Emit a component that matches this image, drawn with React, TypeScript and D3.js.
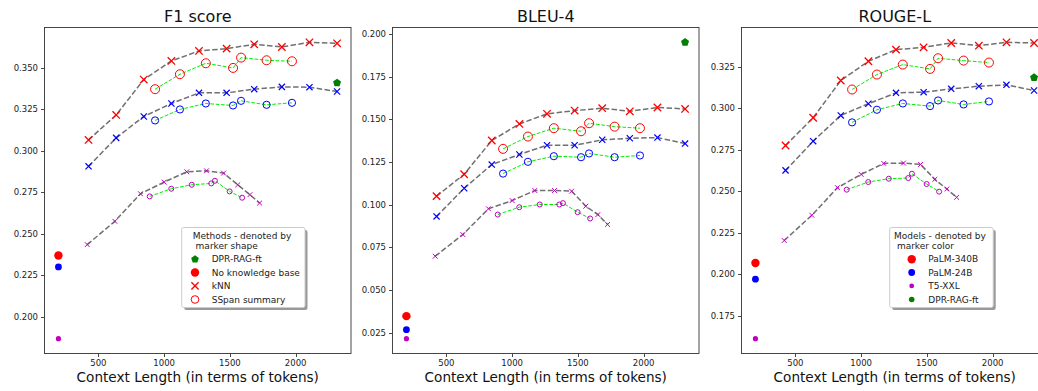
import React from "react";
import * as d3 from "d3";

// ---------- data ----------
const xTicks = [500, 1000, 1500, 2000];
const knnXPalm = [425, 635, 845, 1055, 1265, 1475, 1685, 1895, 2105, 2315];
const knnXT5 = [415, 625, 820, 1000, 1172, 1322, 1452, 1560, 1652, 1726];
const sspanXPalm = [931, 1120, 1317, 1524, 1585, 1779, 1972];
const sspanXT5 = [890, 1054, 1210, 1358, 1386, 1498, 1593];
const baselineX = 196;
const dprX = 2315;

const f1Knn340 = [0.3065, 0.3215, 0.3428, 0.354, 0.36, 0.3614, 0.364, 0.3624, 0.3652, 0.3646];
const f1Knn24 = [0.2906, 0.3077, 0.3206, 0.3284, 0.3348, 0.3348, 0.337, 0.3384, 0.3382, 0.3356];
const f1KnnT5 = [0.2435, 0.2575, 0.2741, 0.2811, 0.2873, 0.2879, 0.2865, 0.2795, 0.2735, 0.2685];
const f1Ss340 = [0.337, 0.346, 0.3526, 0.3498, 0.356, 0.3544, 0.3538];
const f1Ss24 = [0.3182, 0.3248, 0.3284, 0.3272, 0.33, 0.3276, 0.3288];
const f1SsT5 = [0.2725, 0.2771, 0.2795, 0.2803, 0.2819, 0.2755, 0.2717];
const f1Base = [0.2369, 0.2301, 0.1869];
const f1Dpr = 0.3408;
const f1Ticks = [0.2, 0.225, 0.25, 0.275, 0.3, 0.325, 0.35];

const bleuKnn340 = [0.105, 0.1178, 0.1376, 0.1473, 0.1532, 0.1551, 0.1565, 0.1547, 0.1569, 0.1561];
const bleuKnn24 = [0.0931, 0.1096, 0.1235, 0.1294, 0.1348, 0.1348, 0.138, 0.1389, 0.1393, 0.1358];
const bleuKnnT5 = [0.0698, 0.0825, 0.0976, 0.1024, 0.1083, 0.1083, 0.1079, 0.0991, 0.0942, 0.0884];
const bleuSs340 = [0.1327, 0.1399, 0.1448, 0.143, 0.1477, 0.1457, 0.1448];
const bleuSs24 = [0.1182, 0.1251, 0.1284, 0.1278, 0.13, 0.1278, 0.1288];
const bleuSsT5 = [0.0942, 0.0985, 0.1001, 0.1001, 0.1009, 0.0956, 0.0919];
const bleuBase = [0.0347, 0.0268, 0.0215];
const bleuDpr = 0.1951;
const bleuTicks = [0.025, 0.05, 0.075, 0.1, 0.125, 0.15, 0.175, 0.2];

const rougeKnn340 = [0.2775, 0.2942, 0.3166, 0.3282, 0.3352, 0.3366, 0.3392, 0.3376, 0.3396, 0.3392];
const rougeKnn24 = [0.2625, 0.2801, 0.2956, 0.3026, 0.3092, 0.3096, 0.3116, 0.3132, 0.314, 0.3106];
const rougeKnnT5 = [0.2203, 0.2355, 0.2521, 0.2601, 0.2667, 0.2669, 0.2661, 0.2571, 0.2513, 0.2463];
const rougeSs340 = [0.3112, 0.3202, 0.3262, 0.3236, 0.33, 0.3286, 0.3274];
const rougeSs24 = [0.2914, 0.299, 0.3028, 0.3012, 0.3046, 0.3022, 0.304];
const rougeSsT5 = [0.2509, 0.2555, 0.2575, 0.2579, 0.2605, 0.2543, 0.2497];
const rougeBase = [0.2068, 0.197, 0.1612];
const rougeDpr = 0.3184;
const rougeTicks = [0.175, 0.2, 0.225, 0.25, 0.275, 0.3, 0.325];

const modelNames = ["PaLM-340B", "PaLM-24B", "T5-XXL", "DPR-RAG-ft"];
const methodNames = ["DPR-RAG-ft", "No knowledge base", "kNN", "SSpan summary"];

// ---------- styling ----------
const FONT = "DejaVu Sans, sans-serif";
const RED = "#ff0000";
const BLUE = "#0000ff";
const MAG = "#bf00bf";
const GREEN = "#008000";
const LIME = "#00ee00";
const GRAY = "#707070";

const AX_LEFTS = [44.5, 392.5, 741.5];
const AX_W = 306.5;
const AX_TOP = 27.5;
const AX_BOTTOM = 353.5;

const modelStyle = [
  { color: RED, xs: 3.7, cr: 4.5, br: 4.2, sw: 1.3 },
  { color: BLUE, xs: 3.1, cr: 3.6, br: 3.4, sw: 1.2 },
  { color: MAG, xs: 2.4, cr: 2.5, br: 2.6, sw: 1.0 },
];

function pentagonPath(r: number) {
  const pts = d3.range(5).map((i) => {
    const a = -Math.PI / 2 + (i * 2 * Math.PI) / 5;
    return [r * Math.cos(a), r * Math.sin(a)];
  });
  return "M" + pts.map((p) => p[0].toFixed(2) + "," + p[1].toFixed(2)).join("L") + "Z";
}
const xPath = (s: number) => `M${-s},${-s}L${s},${s}M${-s},${s}L${s},${-s}`;

type Panel = {
  title: string;
  knn: number[][];
  ss: number[][];
  base: number[];
  dpr: number;
  ticks: number[];
};

const panels: Panel[] = [
  { title: "F1 score", knn: [f1Knn340, f1Knn24, f1KnnT5], ss: [f1Ss340, f1Ss24, f1SsT5], base: f1Base, dpr: f1Dpr, ticks: f1Ticks },
  { title: "BLEU-4", knn: [bleuKnn340, bleuKnn24, bleuKnnT5], ss: [bleuSs340, bleuSs24, bleuSsT5], base: bleuBase, dpr: bleuDpr, ticks: bleuTicks },
  { title: "ROUGE-L", knn: [rougeKnn340, rougeKnn24, rougeKnnT5], ss: [rougeSs340, rougeSs24, rougeSsT5], base: rougeBase, dpr: rougeDpr, ticks: rougeTicks },
];

function padDomain(vals: number[]): [number, number] {
  const [lo, hi] = d3.extent(vals) as [number, number];
  const m = (hi - lo) * 0.05;
  return [lo - m, hi + m];
}

const allX = [...knnXPalm, ...knnXT5, ...sspanXPalm, ...sspanXT5, baselineX, dprX];
const xDomain = padDomain(allX);

function PanelView({ p, idx }: { p: Panel; idx: number }) {
  const left = AX_LEFTS[idx];
  const x = d3.scaleLinear().domain(xDomain).range([left, left + AX_W]);
  const allY = [...p.knn.flat(), ...p.ss.flat(), ...p.base, p.dpr];
  const y = d3.scaleLinear().domain(padDomain(allY)).range([AX_BOTTOM, AX_TOP]);
  const line = d3.line<[number, number]>().x((d) => x(d[0])).y((d) => y(d[1]));
  const knnX = [knnXPalm, knnXPalm, knnXT5];
  const ssX = [sspanXPalm, sspanXPalm, sspanXT5];

  return (
    <g>
      {/* title */}
      <text x={left + AX_W / 2} y={21.7} textAnchor="middle" fontSize={16} fill="#111">{p.title}</text>
      {/* y ticks */}
      {p.ticks.map((t) => (
        <g key={"y" + t}>
          <line x1={left - 3.5} x2={left} y1={Math.round(y(t)) + 0.5} y2={Math.round(y(t)) + 0.5} stroke="#333" strokeWidth={0.9} />
          <text x={left - 6.5} y={y(t) + 3.1} textAnchor="end" fontSize={8.5} fill="#222">{d3.format(".3f")(t)}</text>
        </g>
      ))}
      {/* x ticks */}
      {xTicks.map((t) => (
        <g key={"x" + t}>
          <line x1={Math.round(x(t)) + 0.5} x2={Math.round(x(t)) + 0.5} y1={AX_BOTTOM} y2={AX_BOTTOM + 3.5} stroke="#333" strokeWidth={0.9} />
          <text x={x(t)} y={366.4} textAnchor="middle" fontSize={8.5} fill="#222">{t}</text>
        </g>
      ))}
      <text x={left + AX_W / 2} y={381.7} textAnchor="middle" fontSize={13.6} fill="#111">Context Length (in terms of tokens)</text>

      {/* kNN series */}
      {p.knn.map((vals, m) => {
        const st = modelStyle[m];
        const pts = vals.map((v, i) => [knnX[m][i], v] as [number, number]);
        return (
          <g key={"knn" + m}>
            <path d={line(pts) || ""} fill="none" stroke={GRAY} strokeWidth={1.5} strokeDasharray="5.5,2.4" />
            {pts.map((d, i) => (
              <path key={i} transform={`translate(${x(d[0])},${y(d[1])})`} d={xPath(st.xs)} stroke={st.color} strokeWidth={st.sw} fill="none" />
            ))}
          </g>
        );
      })}
      {/* SSpan series */}
      {p.ss.map((vals, m) => {
        const st = modelStyle[m];
        const pts = vals.map((v, i) => [ssX[m][i], v] as [number, number]);
        return (
          <g key={"ss" + m}>
            <path d={line(pts) || ""} fill="none" stroke={LIME} strokeWidth={1} strokeDasharray="3.7,1.6" />
            {pts.map((d, i) => (
              <circle key={i} cx={x(d[0])} cy={y(d[1])} r={st.cr} stroke={st.color} strokeWidth={1} fill="none" />
            ))}
          </g>
        );
      })}
      {/* baselines */}
      {p.base.map((v, m) => (
        <circle key={"b" + m} cx={x(baselineX)} cy={y(v)} r={modelStyle[m].br} fill={modelStyle[m].color} />
      ))}
      {/* DPR */}
      <path transform={`translate(${x(dprX)},${y(p.dpr)})`} d={pentagonPath(4.2)} fill={GREEN} />

      {/* frame */}
      <rect x={left} y={AX_TOP} width={AX_W} height={AX_BOTTOM - AX_TOP} fill="none" stroke="#333" strokeWidth={0.9} />
    </g>
  );
}

function LegendBox({ x0, w, titleLines, titleDx, markerDx, textDx, items }: any) {
  const h = 80;
  const y0 = 227.5;
  const rows = [31.7, 45, 58.4, 72];
  return (
    <g>
      <rect x={x0 + 2.5} y={y0 + 2.5} width={w} height={h} rx={2} fill="#000" opacity={0.4} />
      <rect x={x0} y={y0} width={w} height={h} rx={2} fill="#fff" stroke="#cccccc" strokeWidth={1} />
      <text x={x0 + titleDx} y={y0 + 11} fontSize={9} fill="#222">{titleLines[0]}</text>
      <text x={x0 + titleDx + 2.9} y={y0 + 21.2} fontSize={9} fill="#222">{titleLines[1]}</text>
      {items.map((it: any, i: number) => (
        <g key={i}>
          <g transform={`translate(${x0 + markerDx},${y0 + rows[i]})`}>{it.marker}</g>
          <text x={x0 + textDx} y={y0 + rows[i] + 3.2} fontSize={9} fill="#222">{it.label}</text>
        </g>
      ))}
    </g>
  );
}

export default function App() {
  const methodItems = [
    { label: methodNames[0], marker: <path d={pentagonPath(4)} fill={GREEN} /> },
    { label: methodNames[1], marker: <circle r={4.2} fill={RED} /> },
    { label: methodNames[2], marker: <path d={xPath(3.6)} stroke={RED} strokeWidth={1.3} fill="none" /> },
    { label: methodNames[3], marker: <circle r={3.8} fill="none" stroke={RED} strokeWidth={1} /> },
  ];
  const modelItems = [
    { label: modelNames[0], marker: <circle r={4.2} fill={RED} /> },
    { label: modelNames[1], marker: <circle r={3.4} fill={BLUE} /> },
    { label: modelNames[2], marker: <circle r={2.4} fill={MAG} /> },
    { label: modelNames[3], marker: <circle r={2.8} fill={GREEN} /> },
  ];
  return (
    <svg
      width={1038}
      height={391}
      style={{ position: "absolute", left: 0, top: 0, background: "#fff", fontFamily: FONT }}
    >
      <rect x={0} y={0} width={1038} height={391} fill="#fff" />
      {panels.map((p, i) => (
        <PanelView key={i} p={p} idx={i} />
      ))}
      <LegendBox x0={181.7} w={123.3} titleLines={["Methods - denoted by", "marker shape"]} titleDx={11} markerDx={13.3} textDx={30} items={methodItems} />
      <LegendBox x0={889.7} w={103.5} titleLines={["Models - denoted by", "marker color"]} titleDx={4.3} markerDx={22} textDx={38.6} items={modelItems} />
    </svg>
  );
}
